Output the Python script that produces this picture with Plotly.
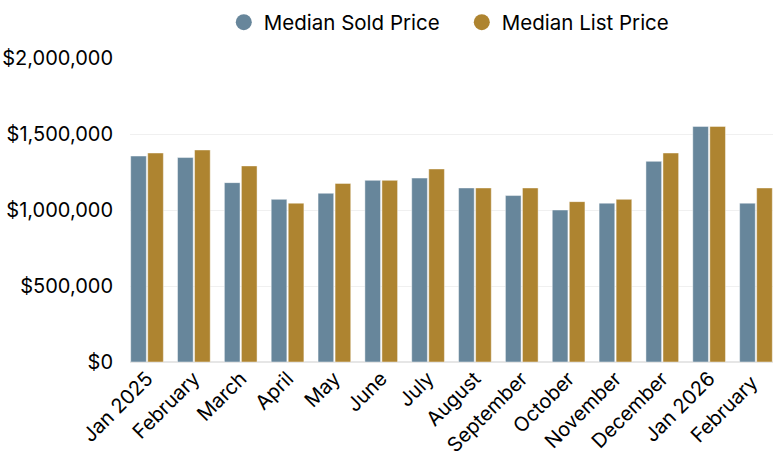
import plotly.graph_objects as go

months = ["Jan 2025", "February", "March", "April", "May", "June", "July",
          "August", "September", "October", "November", "December", "Jan 2026", "February "]
sold = [1355000, 1345000, 1180000, 1070000, 1110000, 1195000, 1210000,
        1145000, 1095000, 1000000, 1045000, 1320000, 1550000, 1045000]
listp = [1375000, 1395000, 1290000, 1045000, 1175000, 1195000, 1270000,
         1145000, 1145000, 1055000, 1070000, 1375000, 1550000, 1145000]
ytick_vals = [0, 500000, 1000000, 1500000, 2000000]
ytick_text = ["$0", "$500,000", "$1,000,000", "$1,500,000", "$2,000,000"]

c_sold = "#67869b"
c_list = "#ae8430"
FONT = "Inter"

fig = go.Figure()
fig.add_trace(go.Bar(x=months, y=sold, name="Median Sold Price", marker_color=c_sold,
                     marker_line=dict(color="rgba(255,255,255,0.45)", width=1), showlegend=False))
fig.add_trace(go.Bar(x=months, y=listp, name="Median List Price", marker_color=c_list,
                     marker_line=dict(color="rgba(255,255,255,0.45)", width=1), showlegend=False))
# legend entries with circle markers
fig.add_trace(go.Scatter(x=[None], y=[None], mode="markers", name="Median Sold Price",
                         marker=dict(color=c_sold, size=19, symbol="circle")))
fig.add_trace(go.Scatter(x=[None], y=[None], mode="markers", name="Median List Price",
                         marker=dict(color=c_list, size=19, symbol="circle")))

gap = 0.273
fig.update_layout(
    width=777, height=468,
    margin=dict(l=130, r=4, t=58, b=106, autoexpand=False),
    paper_bgcolor="white", plot_bgcolor="white",
    font=dict(family=FONT, color="#000", size=20),
    barmode="group", bargap=gap, bargroupgap=0.08,
    legend=dict(orientation="h", x=0.516, xanchor="center", y=0.995, yanchor="top",
                yref="container", font=dict(size=20.5, family=FONT),
                itemwidth=30, entrywidth=193, traceorder="normal"),
    xaxis=dict(type="category", range=[-0.5 + gap / 2, len(months) - 0.5 - gap / 2],
               tickangle=-45, showgrid=False, zeroline=False, showline=False,
               automargin=False,
               ticks="", tickfont=dict(size=20, family=FONT, color="#000")),
    yaxis=dict(range=[0, 2000000], tickvals=ytick_vals, ticktext=ytick_text,
               showgrid=True, gridcolor="#f0f0f0", gridwidth=1,
               zeroline=True, zerolinecolor="#e6e6e6", zerolinewidth=2,
               automargin=False,
               ticks="", ticklabelstandoff=16, showline=False,
               tickfont=dict(size=20, family=FONT, color="#000")),
)
fig.write_html("out.html", config={"displayModeBar": False},
               post_script="document.body.style.margin='0';")
